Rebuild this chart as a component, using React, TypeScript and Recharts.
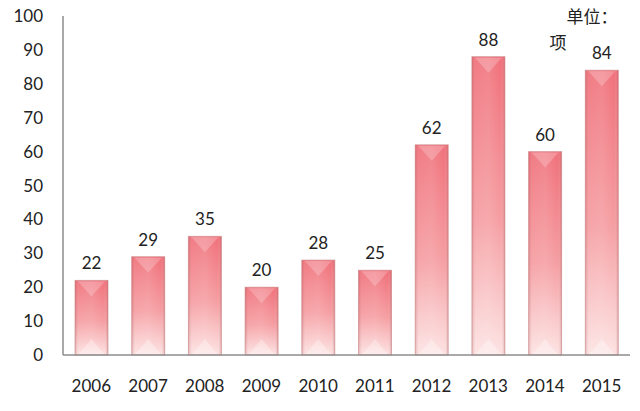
import React from 'react';
import { BarChart, Bar, XAxis, YAxis, LabelList } from 'recharts';

const years = ['2006', '2007', '2008', '2009', '2010', '2011', '2012', '2013', '2014', '2015'];
const counts = [22, 29, 35, 20, 28, 25, 62, 88, 60, 84];
const yTicks = [0, 10, 20, 30, 40, 50, 60, 70, 80, 90, 100];

const data = years.map((y, i) => ({ year: y, value: counts[i] }));

const FONT = 'Lato, "Open Sans", "Noto Sans CJK SC", sans-serif';

const BevelBar = (props: any) => {
  const { x, y, width, height } = props;
  if (!height || height <= 0) return null;
  const b = Math.min(width / 2, 16);
  const e = 3;
  return (
    <g>
      <rect x={x} y={y} width={width} height={height} fill="url(#barGrad)" />
      <rect x={x} y={y} width={width} height={height} fill="url(#sideGrad)" />
      <polygon
        points={`${x + e},${y + 1} ${x + width - e},${y + 1} ${x + width / 2},${y + b}`}
        fill="#ffffff"
        fillOpacity={0.22}
      />
      <polygon
        points={`${x + e},${y + height} ${x + width - e},${y + height} ${x + width / 2},${y + height - b}`}
        fill="#ffffff"
        fillOpacity={0.3}
      />
      <rect x={x} y={y} width={width} height={height} fill="none" stroke="#c98587" strokeOpacity={0.6} strokeWidth={1} />
    </g>
  );
};

const YTick = (props: any) => {
  const { x, y, payload } = props;
  return (
    <text x={x - 12} y={y} dy={6} textAnchor="end" fontSize={17} fontFamily={FONT} fill="#222">
      {payload.value}
    </text>
  );
};

export default function App() {
  return (
    <div style={{ position: 'absolute', left: 0, top: 0, width: 640, height: 411, background: '#fff' }}>
      <BarChart
        width={640}
        height={411}
        data={data}
        margin={{ top: 16, right: 10, bottom: 0, left: 0 }}
        barSize={33}
      >
        <defs>
          <linearGradient id="barGrad" x1="0" y1="0" x2="0" y2="1">
            <stop offset="0%" stopColor="#f0707a" />
            <stop offset="55%" stopColor="#f59ea2" />
            <stop offset="100%" stopColor="#fde3e3" />
          </linearGradient>
          <linearGradient id="sideGrad" x1="0" y1="0" x2="1" y2="0">
            <stop offset="0%" stopColor="#a04045" stopOpacity={0.28} />
            <stop offset="12%" stopColor="#ffffff" stopOpacity={0.08} />
            <stop offset="50%" stopColor="#ffffff" stopOpacity={0.12} />
            <stop offset="88%" stopColor="#ffffff" stopOpacity={0.0} />
            <stop offset="100%" stopColor="#a04045" stopOpacity={0.32} />
          </linearGradient>
        </defs>
        <XAxis
          dataKey="year"
          height={56}
          axisLine={{ stroke: '#8c8c8c', strokeWidth: 1.5 }}
          tickLine={false}
          tick={{ fill: '#222', fontSize: 17, fontFamily: FONT }}
          tickMargin={19}
        />
        <YAxis
          domain={[0, 100]}
          ticks={yTicks}
          width={63}
          axisLine={{ stroke: '#8c8c8c', strokeWidth: 1.5 }}
          tickLine={false}
          tick={<YTick />}
          interval={0}
        />
        <Bar dataKey="value" isAnimationActive={false} shape={<BevelBar />}>
          <LabelList
            dataKey="value"
            position="top"
            offset={11}
            style={{ fill: '#222', fontSize: 17, fontFamily: FONT }}
          />
        </Bar>
        <text x={592} y={23} textAnchor="middle" fontSize={17} fontFamily={FONT} fill="#222">单位：</text>
        <text x={558} y={49} textAnchor="middle" fontSize={17} fontFamily={FONT} fill="#222">项</text>
      </BarChart>
    </div>
  );
}
